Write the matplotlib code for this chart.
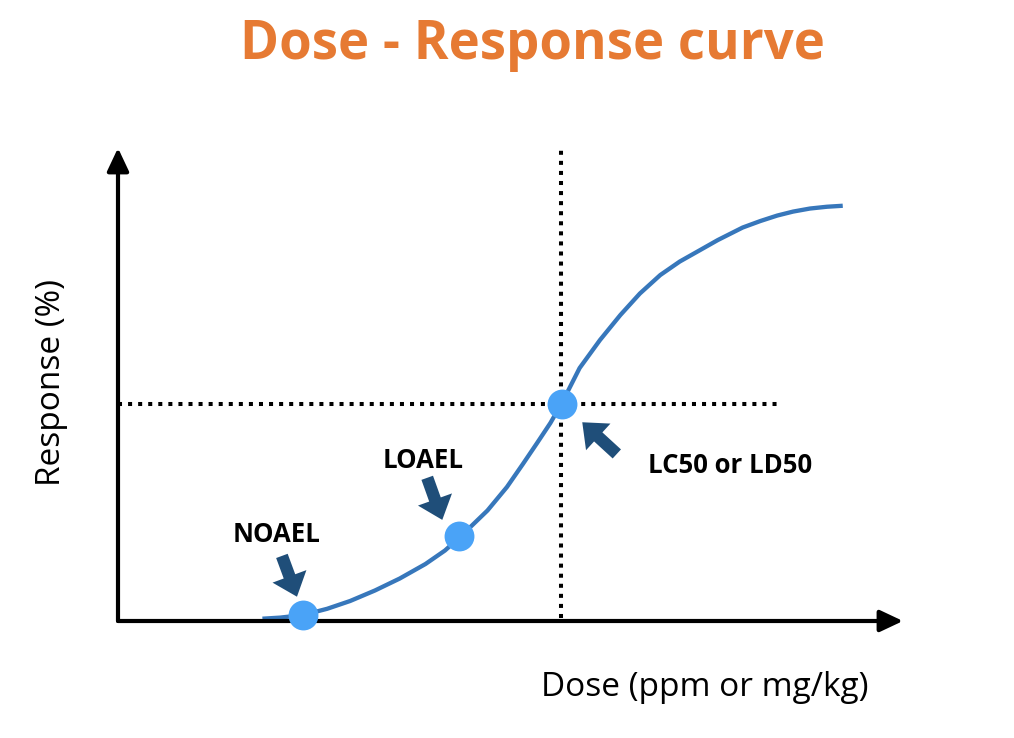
import matplotlib
matplotlib.use("Agg")
import matplotlib.pyplot as plt

plt.rcParams['font.family'] = ['Open Sans', 'DejaVu Sans']

# curve (dose in arbitrary units, response in %)
dose = [1.63, 1.83, 2.09, 2.36, 2.62, 2.90, 3.18, 3.47, 3.69, 3.86, 4.17,
        4.39, 4.57, 4.73, 4.88, 5.01, 5.07, 5.21, 5.44, 5.67, 5.89, 6.12,
        6.34, 6.57, 6.77, 7.05, 7.25, 7.44, 7.62, 7.81, 8.00, 8.18]
response = [0.53, 0.78, 1.38, 2.81, 4.61, 7.03, 9.79, 13.13, 16.24, 19.35,
            25.46, 30.88, 36.18, 41.01, 45.62, 50.23, 52.65, 58.29, 64.75,
            70.51, 75.46, 79.72, 82.83, 85.48, 87.79, 90.67, 92.17, 93.43,
            94.35, 95.05, 95.46, 95.69]

point_names = ["NOAEL", "LOAEL", "LC50 or LD50"]
point_dose = [2.09, 3.85, 5.01]
point_resp = [1.27, 19.65, 50.0]

x_max, y_max = 8.86, 109.0
curve_col = '#3777bb'
dot_col = '#4aa3f7'
arrow_col = '#1f4e79'

fig = plt.figure(figsize=(10.14, 7.38), dpi=100)
ax = fig.add_axes([118/1014, 117/738, 785/1014, 473/738])
ax.set_xlim(0, x_max)
ax.set_ylim(0, y_max)
ax.axis('off')

# axes with arrow heads
head = dict(arrowstyle='-|>,head_length=0.7,head_width=0.33', lw=3,
            color='black', mutation_scale=20, shrinkA=0, shrinkB=0)
ax.annotate('', xy=(x_max, 0), xytext=(0, 0), arrowprops=head, annotation_clip=False)
ax.annotate('', xy=(0, y_max), xytext=(0, 0), arrowprops=head, annotation_clip=False)

# 50% guide lines
dots = (0, (1, 1.5))
ax.plot([0, 7.47], [50, 50], color='black', lw=2.9, ls=dots, dash_capstyle='butt', clip_on=False)
ax.plot([5.0, 5.0], [0.6, 109.7], color='black', lw=2.9, ls=dots, dash_capstyle='butt', clip_on=False)

ax.plot(dose, response, color=curve_col, lw=3.1, solid_capstyle='butt',
        solid_joinstyle='round', clip_on=False)
ax.plot(point_dose, point_resp, 'o', color=dot_col, ms=21.5, mec='none', clip_on=False, zorder=5)

# labels and block arrows
label_pos = [(1.79, 20.0), (3.44, 37.1), (6.91, 35.9)]
arrow_tail = [(1.85, 15.0), (3.49, 33.0), (5.63, 38.5)]
arrow_tip = [(2.02, 5.6), (3.66, 23.3), (5.24, 45.8)]
block = dict(arrowstyle='simple,head_length=0.6,head_width=1.0,tail_width=0.34',
             color=arrow_col, mutation_scale=26, shrinkA=0, shrinkB=0, lw=0)
for name, lp, tail, tip in zip(point_names, label_pos, arrow_tail, arrow_tip):
    ax.text(lp[0], lp[1], name, ha='center', va='center', fontsize=18.5,
            fontweight='bold', color='black')
    ax.annotate('', xy=tip, xytext=tail, arrowprops=block, annotation_clip=False)

fig.text(532/1014, 1 - 45/738, 'Dose - Response curve', ha='center', va='center',
         fontsize=38, fontweight='bold', color='#e67a33')
fig.text(705/1014, 1 - 688/738, 'Dose (ppm or mg/kg)', ha='center', va='center',
         fontsize=24, color='black')
fig.text(52/1014, 1 - 383/738, 'Response (%)', ha='center', va='center',
         fontsize=24, color='black', rotation=90)

fig.savefig('out.png', dpi=100)
